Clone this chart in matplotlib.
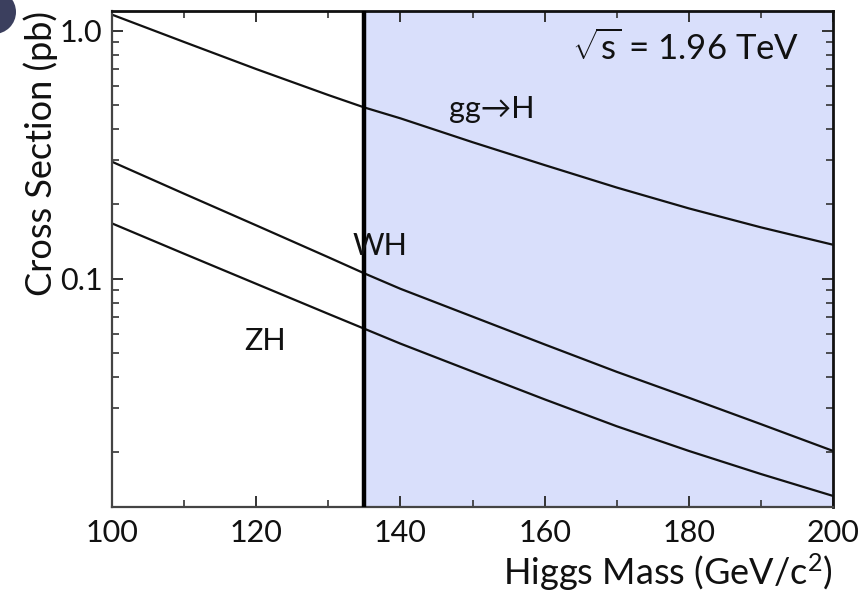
import numpy as np
import matplotlib
matplotlib.use("Agg")
import matplotlib.pyplot as plt
from matplotlib.patches import Circle
from matplotlib.ticker import LogLocator, NullFormatter, MultipleLocator

plt.rcParams['font.family'] = ['Lato', 'DejaVu Sans']
plt.rcParams['mathtext.fontset'] = 'custom'
plt.rcParams['mathtext.rm'] = 'Lato'
plt.rcParams['mathtext.it'] = 'Lato'
plt.rcParams['mathtext.bf'] = 'Lato:bold'

# Higgs mass grid (GeV/c^2) and production cross sections (pb) at the Tevatron
mass = [100, 110, 120, 130, 135, 140, 150, 160, 170, 180, 190, 200]
xs_ggH = [1.16, 0.90, 0.70, 0.55, 0.49, 0.443, 0.355, 0.287, 0.233, 0.192, 0.161, 0.137]
xs_WH = [0.296, 0.220, 0.164, 0.122, 0.105, 0.091, 0.0703, 0.0543, 0.0421, 0.0331, 0.0259, 0.0202]
xs_ZH = [0.167, 0.126, 0.0953, 0.0721, 0.0628, 0.0547, 0.0422, 0.0326, 0.0254, 0.0202, 0.0163, 0.0133]

m_boundary = 135
x_ticks = [100, 120, 140, 160, 180, 200]
y_ticks = [0.1, 1.0]
y_ticklabels = ['0.1', '1.0']

fig = plt.figure(figsize=(8.58, 5.97), dpi=100)
ax = fig.add_axes([112 / 858, 90 / 597, (833 - 112) / 858, (507 - 11) / 597])

ax.set_xlim(100, 200)
ax.set_ylim(0.012, 1.2)
ax.set_yscale('log')

# high-mass region shading and boundary line
ax.axvspan(m_boundary, 200, color='#d9dffb', zorder=0, lw=0)
ax.axvline(m_boundary, color='black', lw=3.2, zorder=3)

line_kw = dict(color='#111111', lw=1.6, zorder=2)
ax.plot(mass, xs_ggH, **line_kw)
ax.plot(mass, xs_WH, **line_kw)
ax.plot(mass, xs_ZH, **line_kw)

txt_kw = dict(fontsize=22, ha='center', va='center', color='#111111')
ax.text(152.7, 0.485, 'gg\u2192H', **txt_kw)
ax.text(137.2, 0.136, 'WH', zorder=4, **txt_kw)
ax.text(121.2, 0.056, 'ZH', **txt_kw)
ax.text(195.4, 0.85, r'$\sqrt{s}$ = 1.96 TeV', fontsize=25, ha='right', va='center',
        color='#111111')

ax.set_xticks(x_ticks)
ax.xaxis.set_minor_locator(MultipleLocator(10))
ax.set_yticks(y_ticks, labels=y_ticklabels)
ax.yaxis.set_minor_locator(LogLocator(base=10, subs=np.arange(2, 10)))
ax.yaxis.set_minor_formatter(NullFormatter())

ax.tick_params(which='both', direction='in', top=True, right=True, colors='#333333',
               labelcolor='#111111', labelsize=22)
ax.tick_params(which='major', length=8, width=1.4)
ax.tick_params(which='minor', length=5, width=1.2)
ax.tick_params(axis='x', pad=9)
ax.tick_params(axis='y', pad=7)

for side in ['left', 'bottom']:
    ax.spines[side].set_linewidth(1.6)
    ax.spines[side].set_color('#444444')
for side in ['top', 'right']:
    ax.spines[side].set_linewidth(2.0)
    ax.spines[side].set_color('#111111')

ax.set_xlabel(r'Higgs Mass (GeV/c$^{2}$)', fontsize=26, loc='right', labelpad=3,
              color='#111111')
ax.set_ylabel('Cross Section (pb)', fontsize=26, loc='top', labelpad=1, color='#111111')

# corner badge
fig.patches.append(Circle((-6, 585), 22, transform=None, facecolor='#3b3f5e',
                          edgecolor='none', figure=fig))

fig.savefig('out.png', dpi=100)
